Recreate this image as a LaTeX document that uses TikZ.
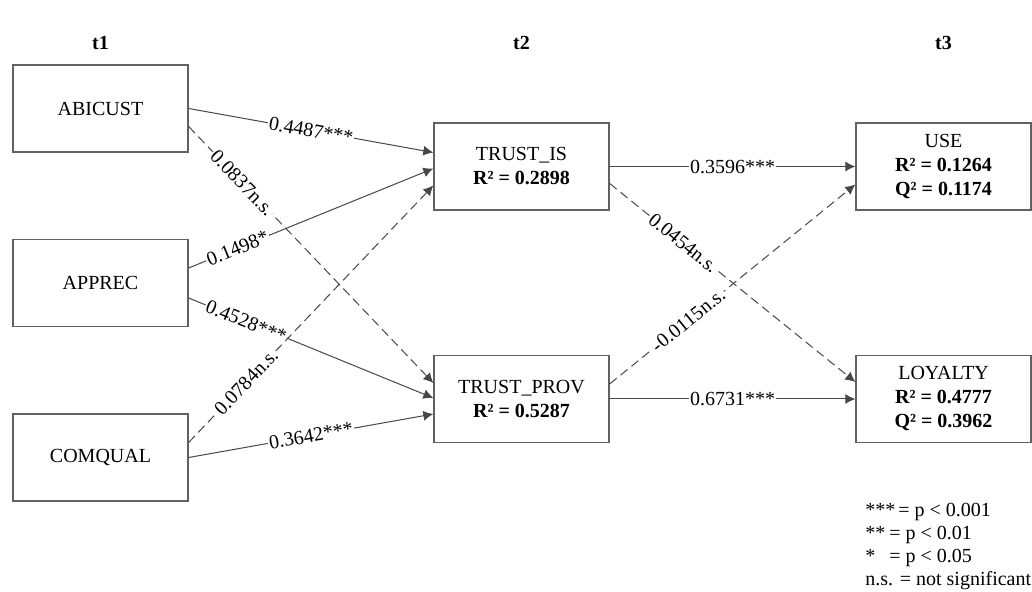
\documentclass[tikz,border=0pt]{standalone}
\usepackage{fontspec}
\setmainfont{Liberation Serif}
\usepackage{tikz}
\usetikzlibrary{calc}
\usetikzlibrary{arrows.meta}

\tikzset{
	construct/.style={draw=black!62, line width=0.65pt, minimum width=87.5pt, minimum height=43.5pt, inner sep=2pt, align=center, font=\fontsize{10}{12}\selectfont},
	effect/.style={draw=black!72, line width=0.5pt, -{Latex[length=5pt,width=5pt]}},
	nseffect/.style={effect, dash pattern=on 4.5pt off 2.5pt},
	coef/.style={fill=white, inner sep=0.6pt, sloped, font=\fontsize{10}{12}\selectfont},
	wave/.style={font=\fontsize{10}{12}\selectfont\bfseries}
}

\begin{document}
\begin{tikzpicture}[x=0.5pt,y=-0.5pt]
	\useasboundingbox (0,0) rectangle (1032,592);
	% time points
	\node[wave] (t1) at (100.5,43) {t1};
	\node[wave] (t2) at (521.5,43) {t2};
	\node[wave] (t3) at (943.5,43) {t3};
	% constructs
	\node[construct] (abicust) at (100.5,108.5) {ABICUST};
	\node[construct] (apprec) at (100.5,283) {APPREC};
	\node[construct] (comqual) at (100.5,457.5) {COMQUAL};
	\node[construct] (trustis) at (521.5,166.5) {TRUST\_IS\\\textbf{R² = 0.2898}};
	\node[construct] (trustprov) at (521.5,399) {TRUST\_PROV\\\textbf{R² = 0.5287}};
	\node[construct] (use) at (943.5,166.5) {USE\\\textbf{R² = 0.1264}\\\textbf{Q² = 0.1174}};
	\node[construct] (loyalty) at (943.5,399) {LOYALTY\\\textbf{R² = 0.4777}\\\textbf{Q² = 0.3962}};
	% paths t1 -> t2
	\draw[effect] (abicust.east) -- node[coef,pos=0.5] {0.4487***} ($(trustis.west)+(0,-14)$);
	\draw[nseffect] ($(abicust.east)+(0,18)$) -- node[coef,pos=0.22] {0.0837n.s.} ($(trustprov.west)+(0,-16)$);
	\draw[effect] ($(apprec.east)+(0,-15)$) -- node[coef,pos=0.2] {0.1498*} ($(trustis.west)+(0,2)$);
	\draw[effect] ($(apprec.east)+(0,15)$) -- node[coef,pos=0.235] {0.4528***} ($(trustprov.west)+(0,-1)$);
	\draw[nseffect] ($(comqual.east)+(0,-15)$) -- node[coef,pos=0.235] {0.0784n.s.} ($(trustis.west)+(0,19)$);
	\draw[effect] (comqual.east) -- node[coef,pos=0.5] {0.3642***} ($(trustprov.west)+(0,15)$);
	% paths t2 -> t3
	\draw[effect] (trustis.east) -- node[coef,pos=0.5] {0.3596***} (use.west);
	\draw[nseffect] ($(trustis.east)+(0,17)$) -- node[coef,pos=0.3] {0.0454n.s.} ($(loyalty.west)+(0,-17)$);
	\draw[nseffect] ($(trustprov.east)+(0,-15)$) -- node[coef,pos=0.32] {-0.0115n.s.} ($(use.west)+(0,18)$);
	\draw[effect] (trustprov.east) -- node[coef,pos=0.5] {0.6731***} (loyalty.west);
	% legend
	\node[anchor=north west, inner sep=0pt, align=left, font=\fontsize{10}{11.5}\selectfont] (legend) at (865,503)
		{\makebox[16.5pt][l]{***}= p < 0.001\\ \makebox[12pt][l]{**}= p < 0.01\\ \makebox[12pt][l]{*}= p < 0.05\\ n.s. = not significant};
\end{tikzpicture}
\end{document}
